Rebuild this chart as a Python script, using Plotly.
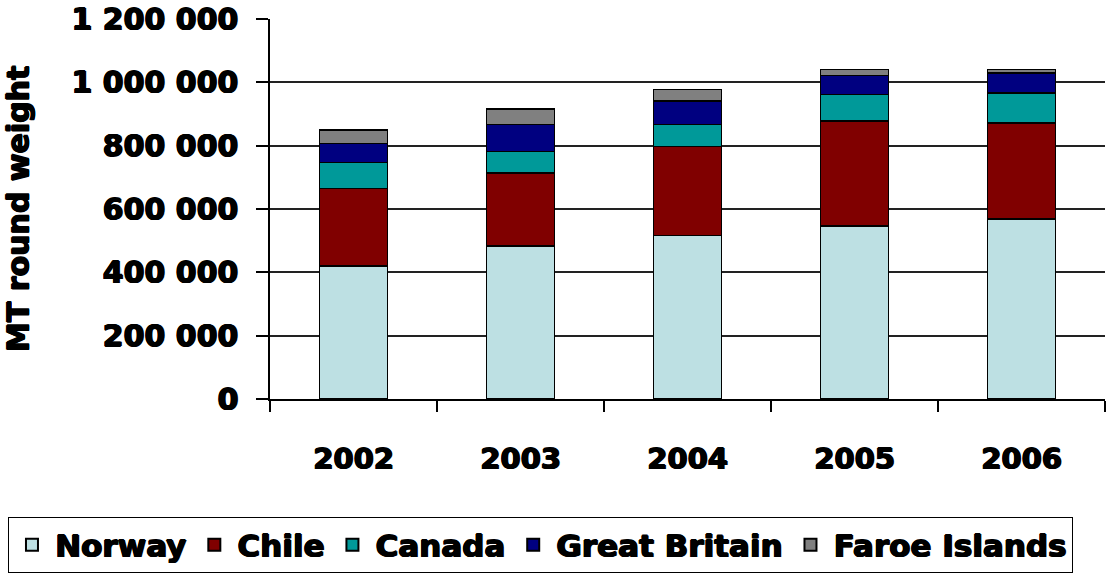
import plotly.graph_objects as go

# Salmon production by country, metric tonnes round weight
years = ["2002", "2003", "2004", "2005", "2006"]
norway = [420000, 483000, 516000, 547000, 568000]
chile = [244000, 230000, 281000, 331000, 304000]
canada = [83000, 68000, 70000, 83000, 95000]
great_britain = [60000, 86000, 74000, 60000, 63000]
faroe_islands = [42000, 49000, 37000, 20000, 11000]

series = [
    ("Norway", norway, "#BDE0E3"),
    ("Chile", chile, "#800000"),
    ("Canada", canada, "#009999"),
    ("Great Britain", great_britain, "#000080"),
    ("Faroe Islands", faroe_islands, "#808080"),
]

y_ticks = [0, 200000, 400000, 600000, 800000, 1000000, 1200000]

FONT = "DejaVu Sans"
# a thin text shadow to make the bold labels heavier
HEAVY = "1px 0px 0px #000, -0.6px 0px 0px #000, 0px 0.6px 0px #000, 0px -0.6px 0px #000"


def heavy_font(size):
    return dict(family=FONT, size=size, color="#000000", weight="bold", shadow=HEAVY)


fig = go.Figure()
for name, values, color in series:
    fig.add_trace(go.Bar(
        x=years, y=values, name=name,
        marker=dict(color=color, line=dict(color="#000000", width=1.5)),
    ))

fig.update_layout(
    barmode="stack",
    bargap=0.59,
    width=1107, height=576,
    margin=dict(l=270, r=2, t=19, b=177),
    paper_bgcolor="white",
    plot_bgcolor="white",
    separators=". ",
    font=heavy_font(29),
    showlegend=True,
    legend=dict(
        orientation="h",
        x=-0.3138, y=-0.3105, xanchor="left", yanchor="top",
        bordercolor="#000000", borderwidth=1,
        font=heavy_font(31),
        traceorder="normal",
        itemsizing="constant",
        itemwidth=36,
        tracegroupgap=0,
    ),
    xaxis=dict(
        showgrid=False,
        showline=True, linecolor="#000000", linewidth=1.5,
        ticks="outside", ticklen=11, tickcolor="#000000", tickwidth=1.5,
        tickson="boundaries",
        ticklabelstandoff=33,
        tickfont=heavy_font(29),
    ),
    yaxis=dict(
        range=[0, 1200000],
        tickvals=y_ticks,
        tickformat=",d",
        showgrid=True, gridcolor="#222222", gridwidth=1.5,
        showline=True, linecolor="#000000", linewidth=1.5,
        ticks="outside", ticklen=12, tickcolor="#000000", tickwidth=1.5,
        ticklabelstandoff=12,
        tickfont=heavy_font(30),
        title=dict(text="MT round weight", standoff=33, font=heavy_font(30)),
        zeroline=False,
    ),
)

fig.write_html("out.html")
